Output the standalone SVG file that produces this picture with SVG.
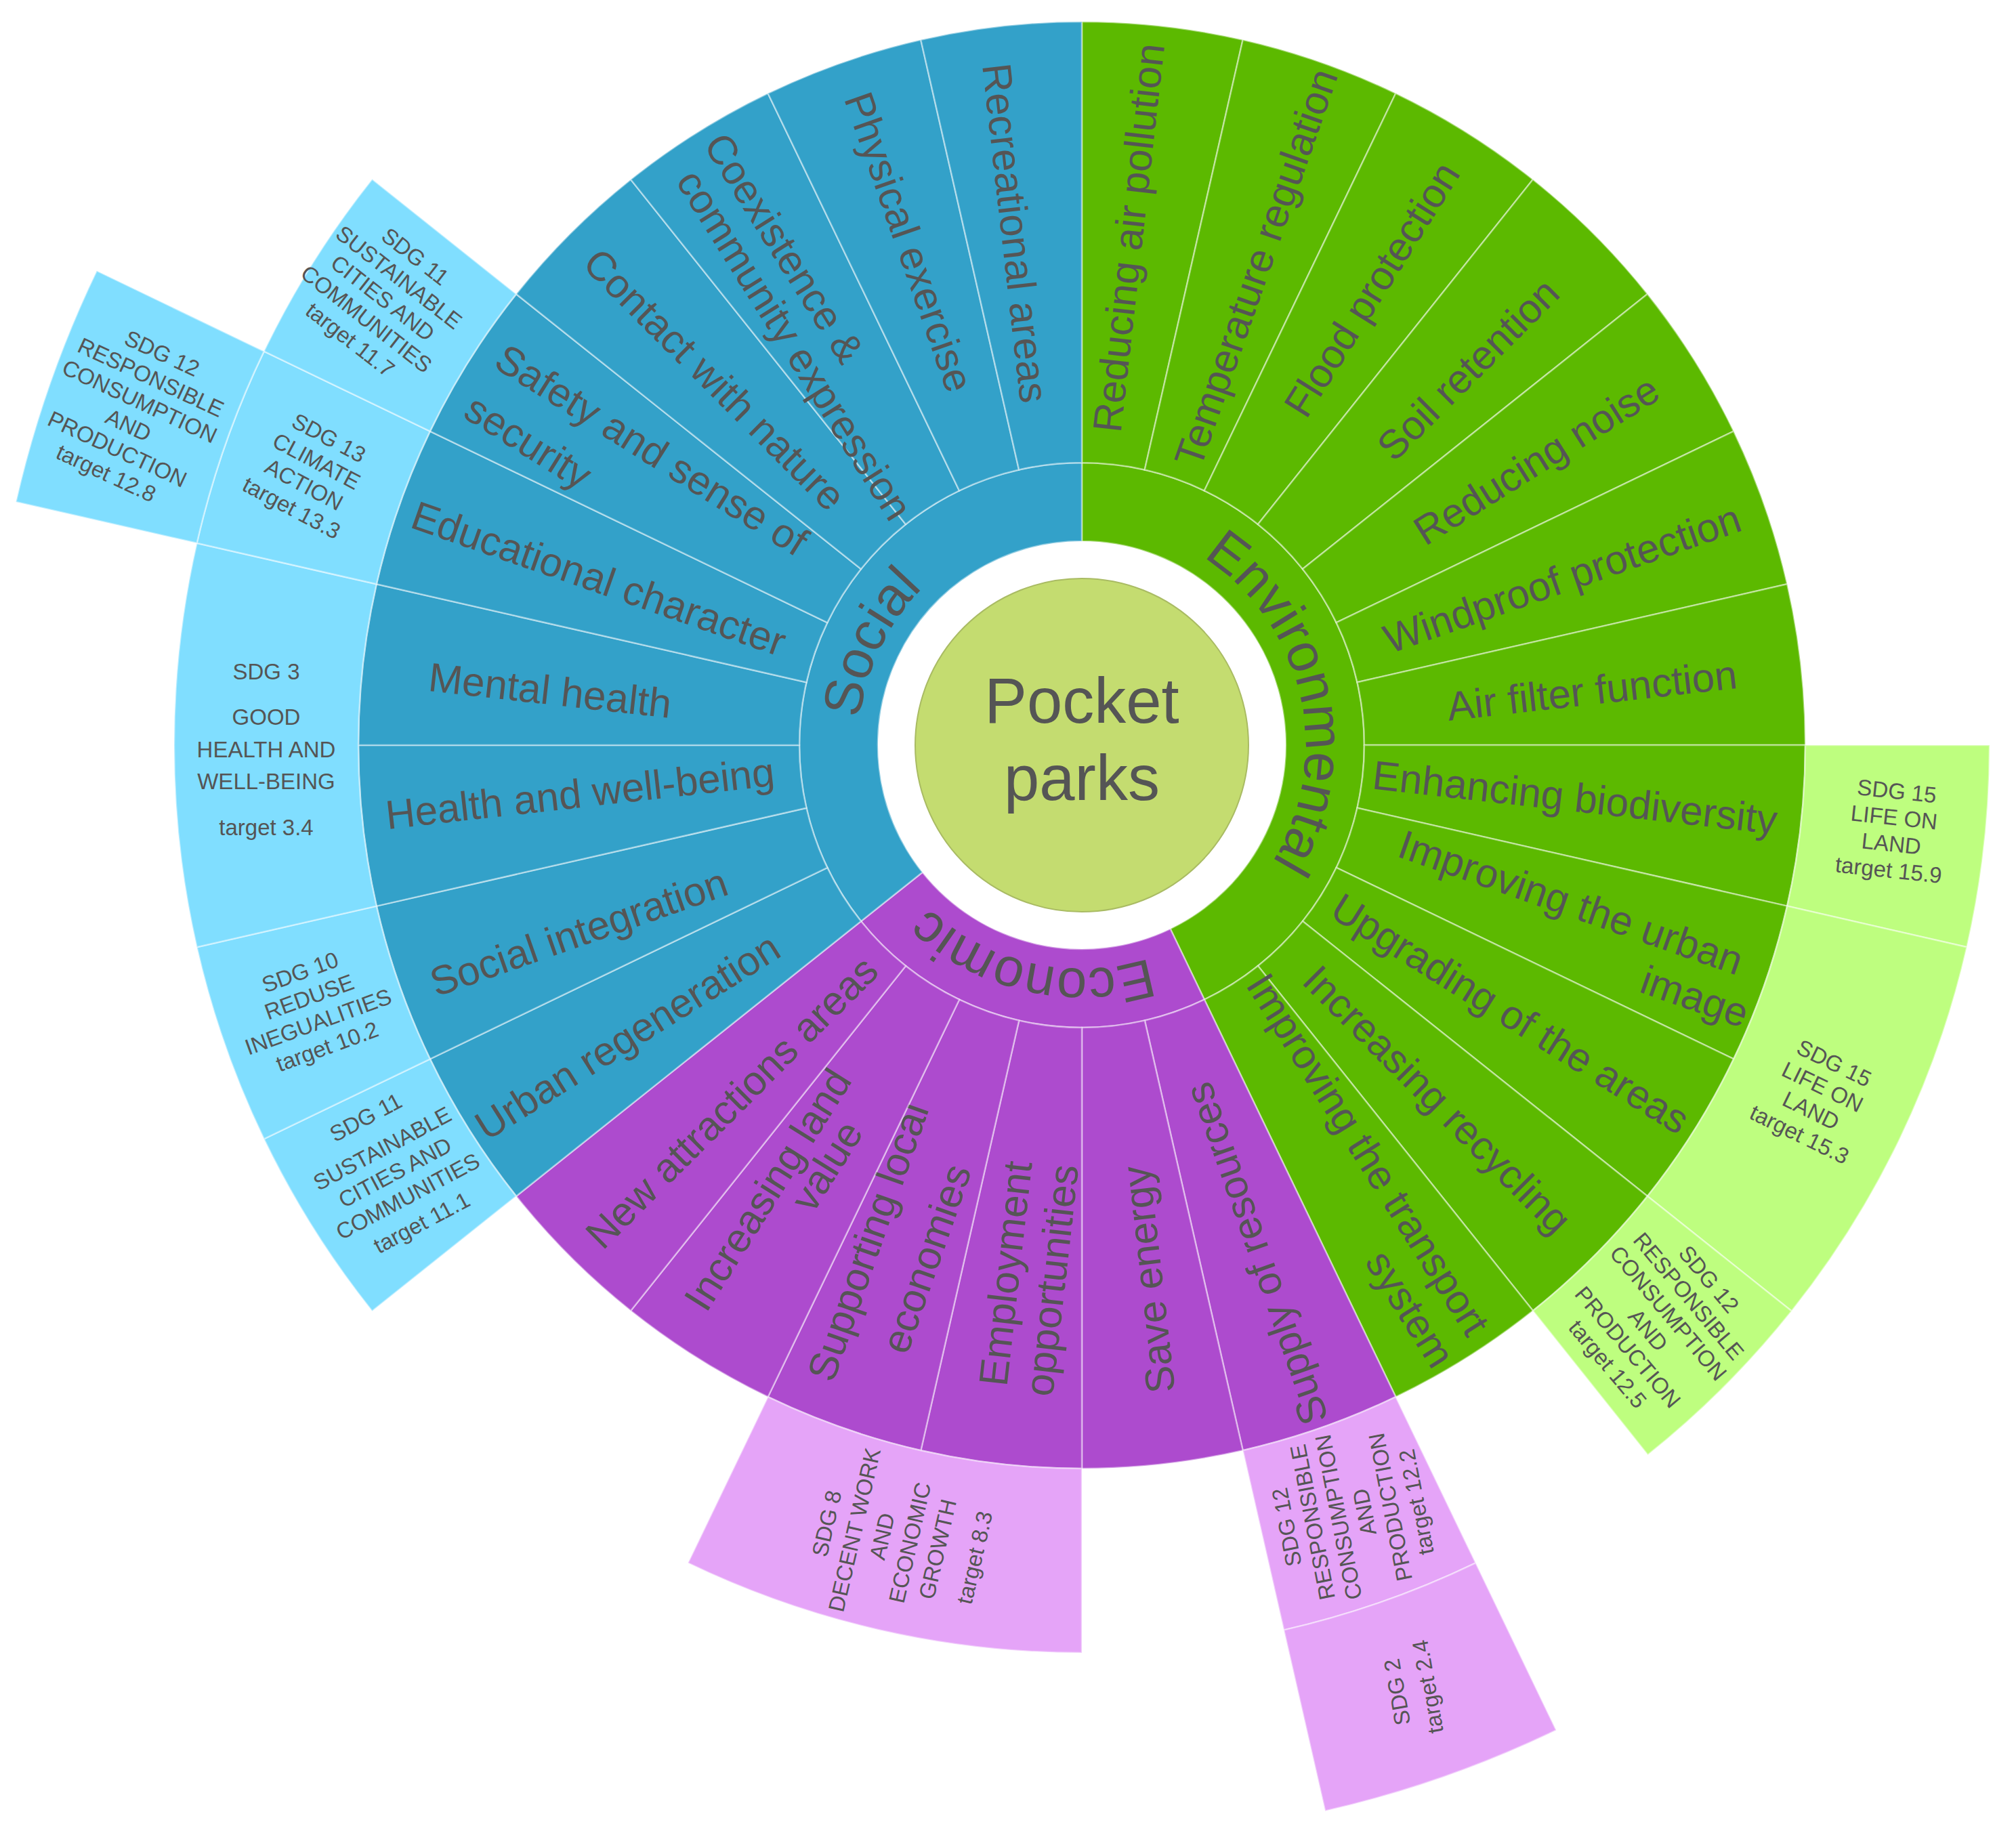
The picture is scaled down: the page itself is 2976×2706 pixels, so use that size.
<svg xmlns="http://www.w3.org/2000/svg" width="2976" height="2706" viewBox="0 0 2976 2706">
<style>
.t{font-family:"Liberation Sans",Arial,sans-serif;fill:#555555;text-anchor:middle}
.item{font-size:60px}
.cat{font-size:80px}
.sdg{font-size:33px}
.seg{stroke:#ffffff;stroke-opacity:0.45;stroke-width:2.5}
.soc{fill:#33A1C9}.env{fill:#5CB900}.eco{fill:#AD4BCE}
.soc2{fill:#80DEFF}.env2{fill:#BEFE7F}.eco2{fill:#E5A4F8}
</style>
<defs>
<path id="arcEnv" d="M1580.5,770.4 A330,330 0 0 1 1725.2,1404.1"/>
<path id="arcEco" d="M1901.1,1228.2 A330,330 0 0 1 1267.4,1083.5"/>
<path id="arcSoc" d="M1404.4,1368.0 A330,330 0 0 1 1686.4,782.3"/>
</defs>
<rect width="2976" height="2706" fill="#ffffff"/>

<g id="categories">
<g id="cat-environmental"><path class="seg env" d="M1597,683 A417,417 0 0 1 1777.9,1475.7 L1727.6,1371.2 A301,301 0 0 0 1597,799 Z"/>
<text class="t cat"><textPath href="#arcEnv" startOffset="50%">Environmental</textPath></text></g>
<g id="cat-economic"><path class="seg eco" d="M1777.9,1475.7 A417,417 0 0 1 1271.0,1360.0 L1361.7,1287.7 A301,301 0 0 0 1727.6,1371.2 Z"/>
<text class="t cat"><textPath href="#arcEco" startOffset="50%">Economic</textPath></text></g>
<g id="cat-social"><path class="seg soc" d="M1271.0,1360.0 A417,417 0 0 1 1597,683 L1597,799 A301,301 0 0 0 1361.7,1287.7 Z"/>
<text class="t cat"><textPath href="#arcSoc" startOffset="50%">Social</textPath></text></g>
</g>

<g id="items">
<g id="e1"><path class="seg env" d="M1597,32 A1068,1068 0 0 1 1834.7,58.8 L1689.8,693.5 A417,417 0 0 0 1597,683 Z"/>
<text class="t item" transform="translate(1666,351) rotate(-83.57)" dy="0.35em">Reducing air pollution</text></g>
<g id="e2"><path class="seg env" d="M1834.7,58.8 A1068,1068 0 0 1 2060.4,137.8 L1777.9,724.3 A417,417 0 0 0 1689.8,693.5 Z"/>
<text class="t item" transform="translate(1854,395) rotate(-70.71)" dy="0.35em">Temperature regulation</text></g>
<g id="e3"><path class="seg env" d="M2060.4,137.8 A1068,1068 0 0 1 2262.9,265.0 L1857.0,774.0 A417,417 0 0 0 1777.9,724.3 Z"/>
<text class="t item" transform="translate(2025,427) rotate(-57.86)" dy="0.35em">Flood protection</text></g>
<g id="e4"><path class="seg env" d="M2262.9,265.0 A1068,1068 0 0 1 2432.0,434.1 L1923.0,840.0 A417,417 0 0 0 1857.0,774.0 Z"/>
<text class="t item" transform="translate(2167,545) rotate(-45)" dy="0.35em">Soil retention</text></g>
<g id="e5"><path class="seg env" d="M2432.0,434.1 A1068,1068 0 0 1 2559.2,636.6 L1972.7,919.1 A417,417 0 0 0 1923.0,840.0 Z"/>
<text class="t item" transform="translate(2268,679) rotate(-32.14)" dy="0.35em">Reducing noise</text></g>
<g id="e6"><path class="seg env" d="M2559.2,636.6 A1068,1068 0 0 1 2638.2,862.3 L2003.6,1007.2 A417,417 0 0 0 1972.7,919.1 Z"/>
<text class="t item" transform="translate(2306,854) rotate(-19.29)" dy="0.35em">Windproof protection</text></g>
<g id="e7"><path class="seg env" d="M2638.2,862.3 A1068,1068 0 0 1 2665,1100 L2014,1100 A417,417 0 0 0 2003.6,1007.2 Z"/>
<text class="t item" transform="translate(2350,1019) rotate(-6.43)" dy="0.35em">Air filter function</text></g>
<g id="e8"><path class="seg env" d="M2665,1100 A1068,1068 0 0 1 2638.2,1337.6 L2003.6,1192.8 A417,417 0 0 0 2014,1100 Z"/>
<text class="t item" transform="translate(2325,1177) rotate(6.43)" dy="0.35em">Enhancing biodiversity</text></g>
<g id="e9"><path class="seg env" d="M2638.2,1337.6 A1068,1068 0 0 1 2559.2,1563.4 L1972.7,1280.9 A417,417 0 0 0 2003.6,1192.8 Z"/>
<text class="t item" transform="translate(2319,1332) rotate(19.29)" dy="0.35em">Improving the urban</text>
<text class="t item" transform="translate(2502,1471) rotate(19.29)" dy="0.35em">image</text></g>
<g id="e10"><path class="seg env" d="M2559.2,1563.4 A1068,1068 0 0 1 2432.0,1765.9 L1923.0,1360.0 A417,417 0 0 0 1972.7,1280.9 Z"/>
<text class="t item" transform="translate(2230,1496) rotate(32.14)" dy="0.35em">Upgrading of the areas</text></g>
<g id="e11"><path class="seg env" d="M2432.0,1765.9 A1068,1068 0 0 1 2262.9,1935.0 L1857.0,1426.0 A417,417 0 0 0 1923.0,1360.0 Z"/>
<text class="t item" transform="translate(2122,1623) rotate(45)" dy="0.35em">Increasing recycling</text></g>
<g id="e12"><path class="seg env" d="M2262.9,1935.0 A1068,1068 0 0 1 2060.4,2062.2 L1777.9,1475.7 A417,417 0 0 0 1857.0,1426.0 Z"/>
<text class="t item" transform="translate(2020,1704) rotate(57.86)" dy="0.35em">Improving the transport</text>
<text class="t item" transform="translate(2082,1932) rotate(57.86)" dy="0.35em">system</text></g>

<g id="c1"><path class="seg eco" d="M2060.4,2062.2 A1068,1068 0 0 1 1834.7,2141.2 L1689.8,1506.6 A417,417 0 0 0 1777.9,1475.7 Z"/>
<text class="t item" transform="translate(1854,1851) rotate(-109.29)" dy="0.35em">Supply of resources</text></g>
<g id="c2"><path class="seg eco" d="M1834.7,2141.2 A1068,1068 0 0 1 1597,2168 L1597,1517 A417,417 0 0 0 1689.8,1506.6 Z"/>
<text class="t item" transform="translate(1695,1889) rotate(-96.43)" dy="0.35em">Save energy</text></g>
<g id="c3"><path class="seg eco" d="M1597,2168 A1068,1068 0 0 1 1359.3,2141.2 L1504.2,1506.6 A417,417 0 0 0 1597,1517 Z"/>
<text class="t item" transform="translate(1484,1880) rotate(-83.57)" dy="0.35em">Employment</text>
<text class="t item" transform="translate(1552,1890) rotate(-83.57)" dy="0.35em">opportunities</text></g>
<g id="c4"><path class="seg eco" d="M1359.3,2141.2 A1068,1068 0 0 1 1133.6,2062.2 L1416.1,1475.7 A417,417 0 0 0 1504.2,1506.6 Z"/>
<text class="t item" transform="translate(1281,1833) rotate(-70.71)" dy="0.35em">Supporting local</text>
<text class="t item" transform="translate(1367,1858) rotate(-70.71)" dy="0.35em">economies</text></g>
<g id="c5"><path class="seg eco" d="M1133.6,2062.2 A1068,1068 0 0 1 931.1,1935.0 L1337.0,1426.0 A417,417 0 0 0 1416.1,1475.7 Z"/>
<text class="t item" transform="translate(1133,1756) rotate(-57.86)" dy="0.35em">Increasing land</text>
<text class="t item" transform="translate(1220,1721) rotate(-57.86)" dy="0.35em">value</text></g>
<g id="c6"><path class="seg eco" d="M931.1,1935.0 A1068,1068 0 0 1 762.0,1765.9 L1271.0,1360.0 A417,417 0 0 0 1337.0,1426.0 Z"/>
<text class="t item" transform="translate(1080,1627) rotate(-45)" dy="0.35em">New attractions areas</text></g>

<g id="s1"><path class="seg soc" d="M762.0,1765.9 A1068,1068 0 0 1 634.8,1563.4 L1221.3,1280.9 A417,417 0 0 0 1271.0,1360.0 Z"/>
<text class="t item" transform="translate(926,1530) rotate(-32.14)" dy="0.35em">Urban regeneration</text></g>
<g id="s2"><path class="seg soc" d="M634.8,1563.4 A1068,1068 0 0 1 555.8,1337.6 L1190.4,1192.8 A417,417 0 0 0 1221.3,1280.9 Z"/>
<text class="t item" transform="translate(854,1376) rotate(-19.29)" dy="0.35em">Social integration</text></g>
<g id="s3"><path class="seg soc" d="M555.8,1337.6 A1068,1068 0 0 1 529,1100 L1180,1100 A417,417 0 0 0 1190.4,1192.8 Z"/>
<text class="t item" transform="translate(856,1171) rotate(-6.43)" dy="0.35em">Health and well-being</text></g>
<g id="s4"><path class="seg soc" d="M529,1100 A1068,1068 0 0 1 555.8,862.3 L1190.4,1007.2 A417,417 0 0 0 1180,1100 Z"/>
<text class="t item" transform="translate(812,1019) rotate(6.43)" dy="0.35em">Mental health</text></g>
<g id="s5"><path class="seg soc" d="M555.8,862.3 A1068,1068 0 0 1 634.8,636.6 L1221.3,919.1 A417,417 0 0 0 1190.4,1007.2 Z"/>
<text class="t item" transform="translate(884,854) rotate(19.29)" dy="0.35em">Educational character</text></g>
<g id="s6"><path class="seg soc" d="M634.8,636.6 A1068,1068 0 0 1 762.0,434.1 L1271.0,840.0 A417,417 0 0 0 1221.3,919.1 Z"/>
<text class="t item" transform="translate(962,664) rotate(32.14)" dy="0.35em">Safety and sense of</text>
<text class="t item" transform="translate(780,652) rotate(32.14)" dy="0.35em">security</text></g>
<g id="s7"><path class="seg soc" d="M762.0,434.1 A1068,1068 0 0 1 931.1,265.0 L1337.0,774.0 A417,417 0 0 0 1271.0,840.0 Z"/>
<text class="t item" transform="translate(1055,560) rotate(45)" dy="0.35em">Contact with nature</text></g>
<g id="s8"><path class="seg soc" d="M931.1,265.0 A1068,1068 0 0 1 1133.6,137.8 L1416.1,724.3 A417,417 0 0 0 1337.0,774.0 Z"/>
<text class="t item" transform="translate(1158,366) rotate(57.86)" dy="0.35em">Coexistence &amp;</text>
<text class="t item" transform="translate(1173,509) rotate(57.86)" dy="0.35em">community expression</text></g>
<g id="s9"><path class="seg soc" d="M1133.6,137.8 A1068,1068 0 0 1 1359.3,58.8 L1504.2,693.5 A417,417 0 0 0 1416.1,724.3 Z"/>
<text class="t item" transform="translate(1342,357) rotate(70.71)" dy="0.35em">Physical exercise</text></g>
<g id="s10"><path class="seg soc" d="M1359.3,58.8 A1068,1068 0 0 1 1597,32 L1597,683 A417,417 0 0 0 1504.2,693.5 Z"/>
<text class="t item" transform="translate(1499,344) rotate(83.57)" dy="0.35em">Recreational areas</text></g>
</g>

<g id="sdgs">
<g id="sdg15-9"><path class="seg env2" d="M2937,1100 A1340,1340 0 0 1 2903.4,1398.2 L2638.2,1337.6 A1068,1068 0 0 0 2665,1100 Z"/>
<text class="t sdg" transform="translate(2794,1226) rotate(6)"><tspan x="0" dy="-47">SDG 15</tspan><tspan x="0" dy="39">LIFE ON</tspan><tspan x="0" dy="39">LAND</tspan><tspan x="0" dy="39">target 15.9</tspan></text></g>
<g id="sdg15-3"><path class="seg env2" d="M2903.4,1398.2 A1340,1340 0 0 1 2644.7,1935.5 L2432.0,1765.9 A1068,1068 0 0 0 2638.2,1337.6 Z"/>
<text class="t sdg" transform="translate(2682,1622) rotate(26)"><tspan x="0" dy="-47">SDG 15</tspan><tspan x="0" dy="39">LIFE ON</tspan><tspan x="0" dy="39">LAND</tspan><tspan x="0" dy="39">target 15.3</tspan></text></g>
<g id="sdg12-5"><path class="seg env2" d="M2644.7,1935.5 A1340,1340 0 0 1 2432.5,2147.7 L2262.9,1935.0 A1068,1068 0 0 0 2432.0,1765.9 Z"/>
<text class="t sdg" transform="translate(2448,1951) rotate(50)"><tspan x="0" dy="-86">SDG 12</tspan><tspan x="0" dy="39">RESPONSIBLE</tspan><tspan x="0" dy="39">CONSUMPTION</tspan><tspan x="0" dy="39">AND</tspan><tspan x="0" dy="39">PRODUCTION</tspan><tspan x="0" dy="39">target 12.5</tspan></text></g>
<g id="sdg12-2"><path class="seg eco2" d="M2178.4,2307.3 A1340,1340 0 0 1 1895.2,2406.4 L1834.7,2141.2 A1068,1068 0 0 0 2060.4,2062.2 Z"/>
<text class="t sdg" transform="translate(1995,2236) rotate(-101)"><tspan x="0" dy="-86">SDG 12</tspan><tspan x="0" dy="39">RESPONSIBLE</tspan><tspan x="0" dy="39">CONSUMPTION</tspan><tspan x="0" dy="39">AND</tspan><tspan x="0" dy="39">PRODUCTION</tspan><tspan x="0" dy="39">target 12.2</tspan></text></g>
<g id="sdg2"><path class="seg eco2" d="M2297.3,2554.2 A1614,1614 0 0 1 1956.2,2673.5 L1895.2,2406.4 A1340,1340 0 0 0 2178.4,2307.3 Z"/>
<text class="t sdg" transform="translate(2085,2494) rotate(-100)"><tspan x="0" dy="-11.5">SDG 2</tspan><tspan x="0" dy="46">target 2.4</tspan></text></g>
<g id="sdg8"><path class="seg eco2" d="M1597,2440 A1340,1340 0 0 1 1015.6,2307.3 L1133.6,2062.2 A1068,1068 0 0 0 1597,2168 Z"/>
<text class="t sdg" transform="translate(1328,2274) rotate(-77)"><tspan x="0" dy="-99">SDG 8</tspan><tspan x="0" dy="42">DECENT WORK</tspan><tspan x="0" dy="42">AND</tspan><tspan x="0" dy="42">ECONOMIC</tspan><tspan x="0" dy="42">GROWTH</tspan><tspan x="0" dy="56">target 8.3</tspan></text></g>
<g id="sdg11-1"><path class="seg soc2" d="M549.4,1935.5 A1340,1340 0 0 1 389.7,1681.4 L634.8,1563.4 A1068,1068 0 0 0 762.0,1765.9 Z"/>
<text class="t sdg" transform="translate(580,1725) rotate(-28)"><tspan x="0" dy="-74">SDG 11</tspan><tspan x="0" dy="52">SUSTAINABLE</tspan><tspan x="0" dy="40">CITIES AND</tspan><tspan x="0" dy="40">COMMUNITIES</tspan><tspan x="0" dy="44">target 11.1</tspan></text></g>
<g id="sdg10"><path class="seg soc2" d="M389.7,1681.4 A1340,1340 0 0 1 290.6,1398.2 L555.8,1337.6 A1068,1068 0 0 0 634.8,1563.4 Z"/>
<text class="t sdg" transform="translate(463,1490) rotate(-20)"><tspan x="0" dy="-47">SDG 10</tspan><tspan x="0" dy="39">REDUSE</tspan><tspan x="0" dy="39">INEGUALITIES</tspan><tspan x="0" dy="39">target 10.2</tspan></text></g>
<g id="sdg3"><path class="seg soc2" d="M290.6,1398.2 A1340,1340 0 0 1 290.6,801.8 L555.8,862.3 A1068,1068 0 0 0 555.8,1337.6 Z"/>
<text class="t sdg"><tspan x="393" y="1003">SDG 3</tspan><tspan x="393" y="1070">GOOD</tspan><tspan x="393" y="1118">HEALTH AND</tspan><tspan x="393" y="1165">WELL-BEING</tspan><tspan x="393" y="1233">target 3.4</tspan></text></g>
<g id="sdg13"><path class="seg soc2" d="M290.6,801.8 A1340,1340 0 0 1 389.7,518.6 L634.8,636.6 A1068,1068 0 0 0 555.8,862.3 Z"/>
<text class="t sdg" transform="translate(458,698) rotate(28)"><tspan x="0" dy="-47">SDG 13</tspan><tspan x="0" dy="39">CLIMATE</tspan><tspan x="0" dy="39">ACTION</tspan><tspan x="0" dy="39">target 13.3</tspan></text></g>
<g id="sdg11-7"><path class="seg soc2" d="M389.7,518.6 A1340,1340 0 0 1 549.4,264.5 L762.0,434.1 A1068,1068 0 0 0 634.8,636.6 Z"/>
<text class="t sdg" transform="translate(565,440) rotate(38)"><tspan x="0" dy="-66.5">SDG 11</tspan><tspan x="0" dy="39">SUSTAINABLE</tspan><tspan x="0" dy="39">CITIES AND</tspan><tspan x="0" dy="39">COMMUNITIES</tspan><tspan x="0" dy="39">target 11.7</tspan></text></g>
<g id="sdg12-8"><path class="seg soc2" d="M23.5,740.9 A1614,1614 0 0 1 142.8,399.7 L389.7,518.6 A1340,1340 0 0 0 290.6,801.8 Z"/>
<text class="t sdg" transform="translate(198,610) rotate(25)"><tspan x="0" dy="-86">SDG 12</tspan><tspan x="0" dy="39">RESPONSIBLE</tspan><tspan x="0" dy="39">CONSUMPTION</tspan><tspan x="0" dy="39">AND</tspan><tspan x="0" dy="39">PRODUCTION</tspan><tspan x="0" dy="39">target 12.8</tspan></text></g>
</g>

<g id="center">
<circle cx="1597" cy="1100" r="246" fill="#C4DC70" stroke="#A9BB63" stroke-width="2"/>
<text class="t" font-size="94" x="1597" y="1067">Pocket</text>
<text class="t" font-size="94" x="1597" y="1181">parks</text>
</g>
</svg>
